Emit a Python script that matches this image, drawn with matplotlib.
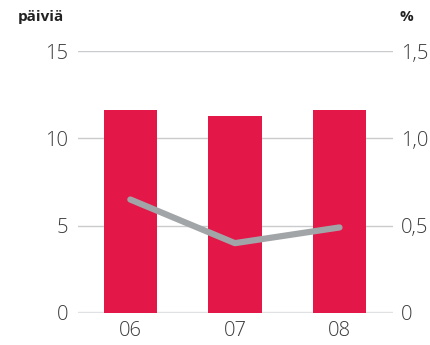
import matplotlib
matplotlib.use("Agg")
import matplotlib.pyplot as plt

years = ["06", "07", "08"]
days = [11.6, 11.3, 11.6]          # päiviä, left axis
pct = [0.65, 0.40, 0.49]           # %, right axis
left_ticks = [0, 5, 10, 15]
right_labels = ["0", "0,5", "1,0", "1,5"]

RED = "#e31748"
GREY_LINE = "#a2a5a8"
GRID = "#c9cbcd"
TEXT = "#3a3a3a"

plt.rcParams["font.family"] = ["Open Sans", "DejaVu Sans"]

fig = plt.figure(figsize=(4.3, 3.45), dpi=100)
ax = fig.add_axes([0.181, 0.0928, 0.733, 0.759])
x = range(len(years))

ax.bar(x, days, width=0.51, color=RED, zorder=2)
ax.set_ylim(0, 15)
ax.set_xlim(-0.502, 2.512)
ax.set_yticks(left_ticks)
ax.grid(axis="y", color=GRID, linewidth=1, zorder=0)
for s in ax.spines.values():
    s.set_visible(False)
ax.axhline(0, color="#e6e7e8", linewidth=2.5, zorder=1)
ax.tick_params(length=0, labelsize=14.5, labelcolor=TEXT)
ax.tick_params(axis="y", pad=7)
ax.tick_params(axis="x", pad=6)
ax.set_xticks(list(x))
ax.set_xticklabels(years)
for lab in ax.get_xticklabels() + ax.get_yticklabels():
    lab.set_fontweight(300)

ax2 = ax.twinx()
ax2.plot(x, pct, color=GREY_LINE, linewidth=4.5, solid_capstyle="round", zorder=3)
ax2.set_ylim(0, 1.5)
ax2.set_yticks([0, 0.5, 1.0, 1.5])
ax2.set_yticklabels(right_labels)
for s in ax2.spines.values():
    s.set_visible(False)
ax2.tick_params(length=0, labelsize=14.5, labelcolor=TEXT, pad=6)
for lab in ax2.get_yticklabels():
    lab.set_fontweight(300)

fig.text(18 / 430, 1 - 17 / 345, "päiviä", fontsize=11, fontweight="bold",
         color="#222222", va="center", ha="left")
fig.text(400 / 430, 1 - 17 / 345, "%", fontsize=11, fontweight="bold",
         color="#222222", va="center", ha="left")

fig.savefig("out.png", dpi=100)
